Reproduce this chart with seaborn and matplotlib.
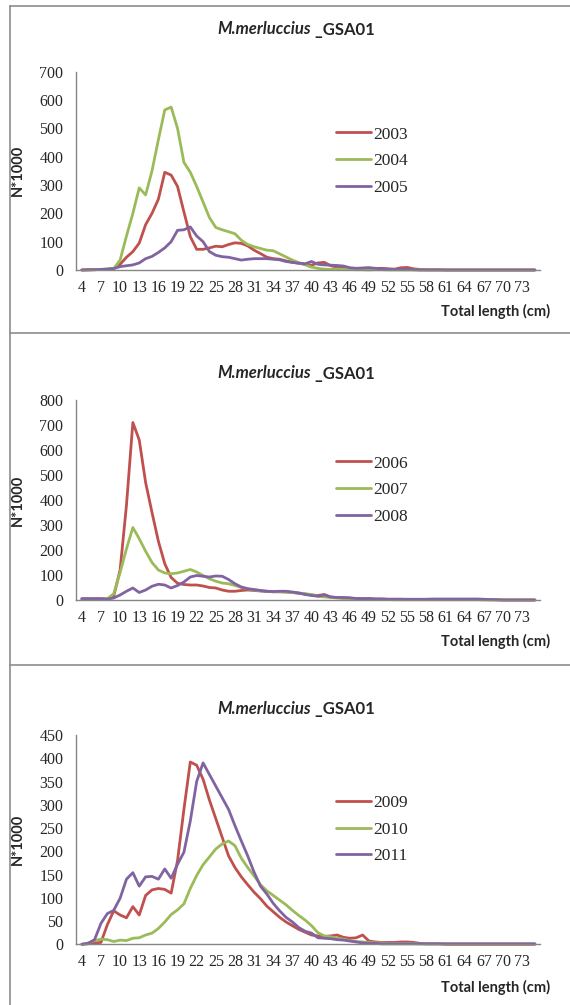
import numpy as np
import pandas as pd
import matplotlib
matplotlib.use("Agg")
import matplotlib.pyplot as plt
from matplotlib.lines import Line2D
import seaborn as sns

# Style: plain white like the Excel original
sns.set_style("white")

# Length classes (cm) and the labelled ones
lengths = np.arange(4, 76)
tick_lengths = np.arange(4, 74, 3)

# Panel 1 : 2003-2005 (N*1000 per length class)
years_1 = ['2003', '2004', '2005']
n_2003 = [0, 0, 1, 2, 3, 5, 20, 45, 65, 95,
          160, 200, 250, 345, 335, 295, 205, 118, 73, 73,
          78, 84, 82, 90, 96, 94, 85, 70, 58, 45,
          40, 38, 32, 27, 24, 20, 17, 25, 27, 15,
          10, 7, 6, 5, 6, 7, 5, 6, 4, 3,
          8, 9, 4, 2, 1, 1, 1, 0, 0, 0,
          0, 0, 0, 0, 0, 0, 0, 0, 0, 0, 0, 0]
n_2004 = [0, 1, 2, 2, 3, 5, 35, 120, 200, 290,
          265, 350, 460, 565, 575, 500, 380, 345, 295, 240,
          185, 150, 142, 135, 128, 105, 90, 82, 76, 70,
          68, 57, 46, 35, 26, 18, 10, 6, 3, 2,
          3, 2, 2, 1, 1, 0, 1, 1, 0, 0,
          0, 0, 0, 0, 0, 0, 0, 0, 0, 0,
          0, 0, 0, 0, 0, 0, 0, 0, 0, 0, 0, 0]
n_2005 = [0, 1, 1, 2, 3, 5, 12, 15, 18, 25,
          40, 48, 62, 78, 100, 140, 142, 152, 120, 100,
          65, 52, 47, 45, 40, 35, 38, 40, 40, 40,
          38, 36, 30, 27, 24, 22, 30, 20, 18, 17,
          16, 14, 8, 6, 7, 8, 6, 4, 3, 2,
          2, 2, 1, 0, 0, 0, 0, 0, 0, 0,
          0, 0, 0, 0, 0, 0, 0, 0, 0, 0, 0, 0]

# Panel 2 : 2006-2008
years_2 = ['2006', '2007', '2008']
n_2006 = [5, 5, 5, 5, 5, 15, 120, 380, 710, 640,
          470, 350, 235, 145, 90, 67, 62, 60, 60, 56,
          50, 48, 40, 35, 35, 38, 40, 38, 36, 34,
          33, 33, 32, 30, 27, 24, 20, 18, 22, 12,
          10, 8, 7, 6, 5, 5, 4, 4, 3, 3,
          3, 2, 2, 2, 2, 2, 2, 2, 2, 2,
          2, 2, 2, 2, 1, 1, 0, 0, 0, 0, 0, 0]
n_2007 = [3, 3, 3, 3, 5, 25, 110, 205, 290, 245,
          195, 150, 120, 108, 105, 108, 115, 122, 112, 98,
          85, 75, 68, 65, 58, 50, 45, 40, 37, 35,
          33, 33, 32, 30, 28, 25, 22, 15, 12, 10,
          8, 6, 5, 4, 3, 3, 2, 2, 2, 1,
          1, 1, 1, 1, 1, 1, 1, 1, 1, 1,
          1, 1, 1, 0, 0, 0, 0, 0, 0, 0, 0, 0]
n_2008 = [5, 5, 5, 5, 3, 8, 20, 35, 48, 30,
          40, 55, 63, 60, 48, 58, 72, 92, 98, 95,
          92, 96, 95, 82, 65, 52, 45, 42, 38, 35,
          34, 35, 35, 32, 28, 22, 18, 15, 20, 12,
          10, 10, 9, 6, 5, 6, 4, 4, 3, 3,
          3, 3, 3, 3, 3, 4, 4, 4, 4, 4,
          4, 4, 4, 3, 2, 1, 0, 0, 0, 0, 0, 0]

# Panel 3 : 2009-2011
years_3 = ['2009', '2010', '2011']
n_2009 = [0, 1, 3, 4, 42, 72, 63, 57, 81, 63,
          105, 117, 120, 118, 110, 180, 290, 392, 385, 355,
          310, 270, 230, 190, 165, 145, 128, 112, 98, 82,
          70, 58, 48, 40, 32, 26, 20, 18, 17, 18,
          20, 15, 13, 14, 20, 7, 5, 4, 4, 4,
          5, 5, 4, 2, 1, 1, 1, 0, 0, 0,
          0, 0, 0, 0, 0, 0, 0, 0, 0, 0, 0, 0]
n_2010 = [0, 3, 8, 11, 10, 6, 9, 8, 13, 14,
          20, 24, 34, 48, 64, 74, 87, 120, 148, 171,
          188, 205, 216, 222, 212, 185, 165, 147, 128, 115,
          105, 95, 85, 73, 62, 52, 40, 25, 18, 16,
          13, 11, 8, 6, 5, 4, 3, 3, 2, 2,
          2, 2, 2, 1, 1, 1, 1, 1, 1, 1,
          1, 1, 1, 1, 1, 1, 1, 1, 1, 1, 1, 1]
n_2011 = [0, 2, 10, 45, 66, 73, 99, 140, 154, 125,
          145, 146, 140, 162, 142, 172, 198, 265, 350, 390,
          365, 340, 315, 290, 255, 222, 190, 155, 125, 108,
          88, 72, 58, 48, 36, 28, 24, 14, 13, 12,
          10, 9, 7, 5, 3, 2, 2, 1, 1, 1,
          1, 1, 1, 1, 1, 1, 1, 1, 1, 1,
          1, 1, 1, 1, 1, 1, 1, 1, 1, 1, 1, 1]

line_colors = ['#C0504D', '#9BBB59', '#8064A2']
axis_grey = '#868686'
W, H = 570, 1005


def px_rect(left, zero_y, right, top_y):
    # axes rectangle from pixel positions of the plot area
    return [left / W, 1 - zero_y / H, (right - left) / W, (zero_y - top_y) / H]


panels = [
    dict(years=years_1, series=[n_2003, n_2004, n_2005], ymax=700, ystep=100,
         rect=px_rect(76, 270, 540, 71.7), title_y=29.5, legend_y=161),
    dict(years=years_2, series=[n_2006, n_2007, n_2008], ymax=800, ystep=100,
         rect=px_rect(76, 600, 540, 400), title_y=373.5, legend_y=490),
    dict(years=years_3, series=[n_2009, n_2010, n_2011], ymax=450, ystep=50,
         rect=px_rect(76, 944.3, 540, 735), title_y=708.5, legend_y=829.5),
]

fig = plt.figure(figsize=(W / 100, H / 100), dpi=100)
renderer = fig.canvas.get_renderer()


def add_title(y_px):
    # italic species name followed by the upright area code, centred as one line
    kw = dict(va='center', fontfamily='Lato', fontweight='bold', fontsize=12)
    t1 = fig.text(0, 1 - y_px / H, 'M.merluccius', style='italic', ha='left', **kw)
    t2 = fig.text(0, 1 - y_px / H, ' _GSA01', ha='left', **kw)
    w1 = t1.get_window_extent(renderer).width / W
    w2 = t2.get_window_extent(renderer).width / W
    x0 = 296 / W - (w1 + w2) / 2
    t1.set_x(x0)
    t2.set_x(x0 + w1)


for p in panels:
    ax = fig.add_axes(p['rect'])
    df = pd.DataFrame({
        'length': np.tile(lengths, 3),
        'n': np.concatenate(p['series']),
        'year': np.repeat(p['years'], len(lengths)),
    })
    sns.lineplot(data=df, x='length', y='n', hue='year',
                 palette=dict(zip(p['years'], line_colors)),
                 linewidth=2.0, clip_on=False, ax=ax)

    ax.set_xlim(3.09, 75.8)
    ax.set_ylim(0, p['ymax'])
    ax.set_xticks(tick_lengths)
    ax.set_xticklabels([str(t) for t in tick_lengths])
    ax.set_yticks(np.arange(0, p['ymax'] + 1, p['ystep']))

    sns.despine(ax=ax)
    for side in ['left', 'bottom']:
        ax.spines[side].set_color(axis_grey)
        ax.spines[side].set_linewidth(1.0)
    ax.tick_params(axis='y', length=4, width=1, color=axis_grey, pad=5)
    ax.tick_params(axis='x', length=0, pad=7)
    for lab in ax.get_xticklabels() + ax.get_yticklabels():
        lab.set_fontfamily('Liberation Serif')
        lab.set_fontsize(11.5)

    ax.set_ylabel('N*1000', fontfamily='Lato', fontweight='bold', fontsize=10.5)
    ax.yaxis.set_label_coords(-0.11, 0.5)
    ax.set_xlabel('Total length (cm)', fontfamily='Lato', fontweight='bold',
                  fontsize=10.5, ha='right')
    ax.xaxis.set_label_coords(1.022, -0.17)

    sns.move_legend(ax, 'center left', bbox_to_anchor=(336 / W, 1 - p['legend_y'] / H),
                    bbox_transform=fig.transFigure, frameon=False, title=None,
                    handlelength=2.0, handletextpad=0.15, labelspacing=0.6,
                    borderpad=0, borderaxespad=0,
                    prop={'family': 'Liberation Serif', 'size': 12.5})

    add_title(p['title_y'])

# Panel frames as in the pasted Excel charts
frame_kw = dict(transform=fig.transFigure, color='#8c8c8c', linewidth=1.2)
for y in [6, 333, 665]:
    fig.add_artist(Line2D([10 / W, 1], [1 - y / H, 1 - y / H], **frame_kw))
fig.add_artist(Line2D([10 / W, 10 / W], [1 - 6 / H, 0], **frame_kw))

fig.savefig('out.png', dpi=100)
